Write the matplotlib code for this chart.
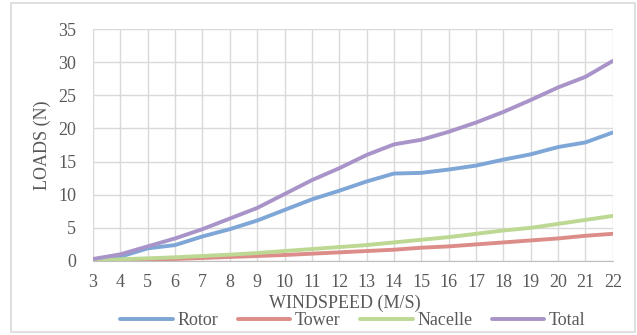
import matplotlib.pyplot as plt
from matplotlib.patches import Rectangle

# Windgeschwindigkeit (m/s) und Lasten (N)
windspeed = list(range(3, 23))
rotor = [0.2, 0.65, 1.9, 2.4, 3.7, 4.8, 6.1, 7.7, 9.3, 10.6, 12.0, 13.2,
         13.3, 13.8, 14.4, 15.3, 16.1, 17.2, 17.9, 19.4]
tower = [0.05, 0.1, 0.2, 0.3, 0.45, 0.6, 0.75, 0.9, 1.1, 1.3, 1.5, 1.7,
         2.0, 2.2, 2.5, 2.8, 3.1, 3.4, 3.8, 4.1]
nacelle = [0.1, 0.25, 0.4, 0.55, 0.75, 0.95, 1.2, 1.5, 1.8, 2.1, 2.4, 2.8,
           3.2, 3.6, 4.1, 4.6, 5.0, 5.6, 6.2, 6.8]
total = [0.3, 1.0, 2.2, 3.4, 4.8, 6.4, 8.0, 10.1, 12.2, 14.0, 16.0, 17.6,
         18.3, 19.5, 20.9, 22.5, 24.3, 26.2, 27.8, 30.2]

series = [("Rotor", rotor, "#7ea6d6"),
          ("Tower", tower, "#dc8d89"),
          ("Nacelle", nacelle, "#bcd892"),
          ("Total", total, "#a894c8")]

plt.rcParams['font.family'] = ['Liberation Serif', 'DejaVu Serif']
text_col = "#595959"
fs = 13

fig = plt.figure(figsize=(6.37, 3.35), dpi=100)
ax = fig.add_axes([0.146, 0.221, 0.816, 0.692])

for name, vals, col in series:
    ax.plot(windspeed, vals, color=col, linewidth=2.8, label=name,
            solid_capstyle='round')

ax.set_xlim(3, 22)
ax.set_ylim(0, 35)
ax.set_xticks(windspeed)
ax.set_yticks(range(0, 36, 5))
ax.grid(color="#d9d9d9", linewidth=1.0)
ax.set_axisbelow(True)
for s in ['top', 'right', 'left']:
    ax.spines[s].set_visible(False)
ax.spines['bottom'].set_color("#bfbfbf")
ax.tick_params(axis='both', length=0, labelsize=fs, colors=text_col)
ax.tick_params(axis='x', pad=9.5)
ax.tick_params(axis='y', pad=12)

ax.set_xlabel("WINDSPEED (M/S)", fontsize=fs, color=text_col)
ax.xaxis.set_label_coords(0.485, -0.145)
ax.set_ylabel("LOADS (N)", fontsize=fs, color=text_col)
ax.yaxis.set_label_coords(-0.081, 0.5)

fig.legend(loc='center', bbox_to_anchor=(0.554, 0.042), ncol=4, frameon=False,
           fontsize=fs, labelcolor=text_col, handlelength=2.9,
           columnspacing=1.1, handletextpad=0.25)

fig.patches.append(Rectangle((0.017, 0.008), 0.98, 0.984, transform=fig.transFigure,
                             fill=False, edgecolor="#d9d9d9", linewidth=1.2))

fig.savefig("out.png", dpi=100)
